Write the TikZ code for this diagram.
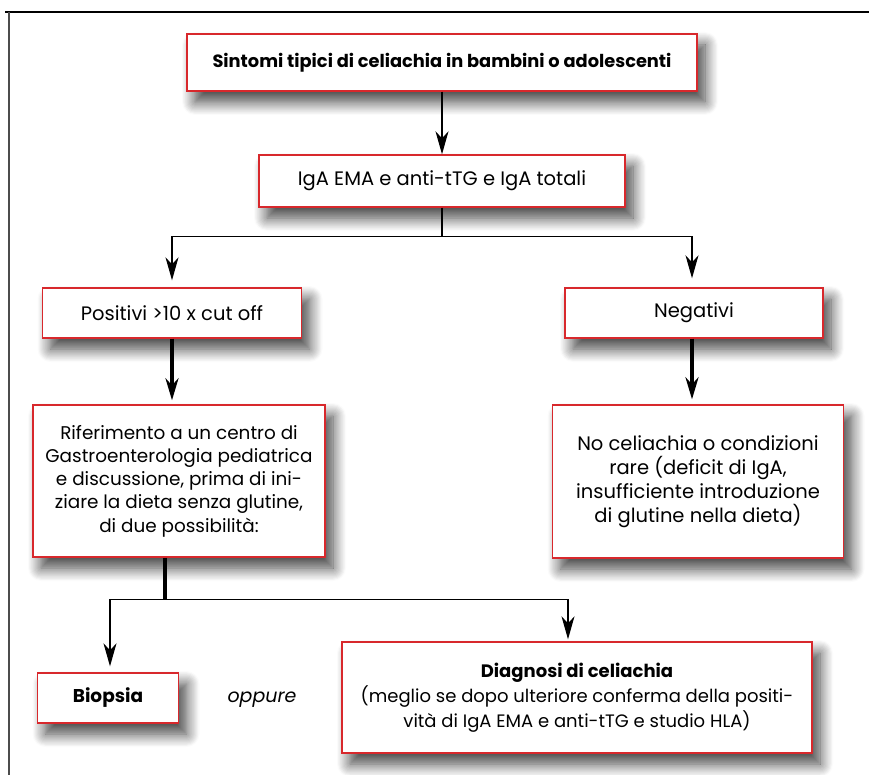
\documentclass[tikz,border=0pt]{standalone}
\usepackage{fontspec}
\setmainfont{Poppins}
\usetikzlibrary{arrows.meta,shadows.blur,calc}
\definecolor{boxred}{HTML}{D8282C}
\tikzset{
  box/.style={draw=boxred, line width=1.4pt, fill=white, align=center, inner sep=2pt,
    blur shadow={shadow xshift=8pt, shadow yshift=-11pt, shadow blur radius=13pt, shadow blur steps=12, shadow opacity=75}},
  big/.style={font=\fontsize{19.5}{23}\selectfont},
  arr/.style={line width=1.4pt, -{Stealth[length=23pt,width=13pt,inset=7pt]}},
  thickarr/.style={line width=3.3pt, -{Stealth[length=22pt,width=13pt,inset=7pt]}},
  thinline/.style={line width=1.4pt},
  thickline/.style={line width=3.3pt}
}
\begin{document}
\begin{tikzpicture}[x=1pt,y=-1pt]
\useasboundingbox (0,0) rectangle (869,775);
% frame
\draw[line width=2pt] (5,12) -- (869,12);
\draw[line width=2pt, black!70] (9,12) -- (9,775);
% boxes
\node[box, minimum width=510pt, minimum height=57pt, font=\fontsize{17.8}{21}\selectfont\bfseries] (b1) at (442,62.5) {Sintomi tipici di celiachia in bambini o adolescenti};
\node[box, big, minimum width=366pt, minimum height=52pt] (b2) at (442,181) {IgA EMA e anti-tTG e IgA totali};
\node[box, big, minimum width=259pt, minimum height=50pt] (b3) at (172,313) {Positivi >10 x cut off};
\node[box, big, minimum width=258pt, minimum height=50pt] (b4) at (694,313) {Negativi};
\node[box, font=\fontsize{18.4}{23.3}\selectfont, minimum width=292pt, minimum height=152pt] (b5) at (179,481) {Riferimento a un centro di\\Gastroenterologia pediatrica\\e discussione, prima di ini-\\ziare la dieta senza glutine,\\di due possibilità:};
\node[box, font=\fontsize{19.5}{24}\selectfont, minimum width=291pt, minimum height=153pt] (b6) at (698,481.5) {No celiachia o condizioni\\rare (deficit di IgA,\\insufficiente introduzione\\di glutine nella dieta)};
\node[box, minimum width=141pt, minimum height=50pt, font=\fontsize{18.5}{22}\selectfont\bfseries] (b7) at (108,698) {Biopsia};
\node[box, minimum width=470pt, minimum height=111pt, font=\fontsize{18}{25}\selectfont] (b8) at (577,697.5) {{\bfseries Diagnosi di celiachia}\\(meglio se dopo ulteriore conferma della positi-\\vità di IgA EMA e anti-tTG e studio HLA)};
\node[font=\fontsize{19}{22}\selectfont\itshape] (opp) at (262,700) {oppure};
% connectors
\draw[arr] (b1.south) -- (b2.north);
\coordinate (j1) at ($(b2.south)+(0,29)$);
\draw[thinline] (b2.south) -- (j1);
\draw[arr, shorten >=7pt] (j1) -| (b3.north);
\draw[arr, shorten >=9pt] (j1) -| ($(b4.north)+(-2,0)$);
\draw[thickarr, shorten >=4pt] (b3.south) -- (b3.south |- b5.north);
\draw[thickarr, shorten >=5pt] ($(b4.south)+(-2,0)$) -- ($(b4.south |- b6.north)+(-2,0)$);
\coordinate (s5) at ($(b5.south)+(-14,0)$);
\coordinate (j2) at ($(s5)+(0,42)$);
\coordinate (t7) at ($(b7.north)+(2,0)$);
\coordinate (t8) at ($(b8.north)+(-9,0)$);
\draw[thickline] (s5) -- (j2);
\draw[arr, shorten >=6pt] (j2) -| (t7);
\draw[arr, shorten >=2pt] (j2) -| (t8);
\end{tikzpicture}
\end{document}
